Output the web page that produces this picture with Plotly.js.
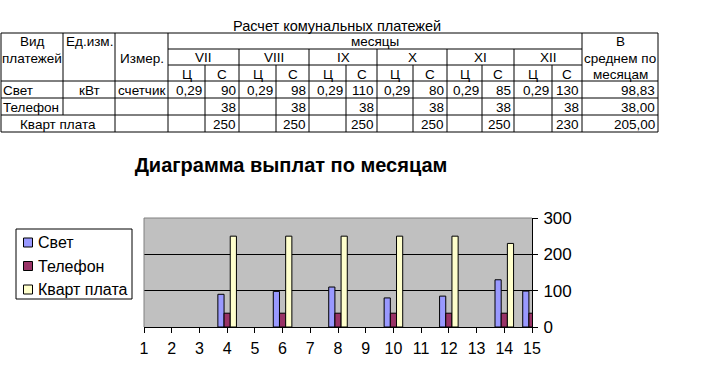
<!DOCTYPE html>
<html>
<head>
<meta charset="utf-8">
<script src="https://cdn.plot.ly/plotly-3.0.1.min.js"></script>
<style>
html,body{margin:0;padding:0;background:#fff;}
#chart{width:726px;height:392px;}
</style>
</head>
<body>
<div id="chart"></div>
<script>
// ---------- DATA ----------
const tableTitle = 'Расчет комунальных платежей';
const chartTitle = 'Диаграмма выплат по месяцам';
const seriesNames = ['Свет', 'Телефон', 'Кварт плата'];
const units = ['кВт', '', ''];
const meters = ['счетчик', '', ''];
const months = ['VII', 'VIII', 'IX', 'X', 'XI', 'XII'];
const svetPrice = [0.29, 0.29, 0.29, 0.29, 0.29, 0.29];
const svetCost = [90, 98, 110, 80, 85, 130];
const phoneCost = [38, 38, 38, 38, 38, 38];
const rentCost = [250, 250, 250, 250, 250, 230];
const averages = [98.83, 38.00, 205.00];
const categories = [1, 2, 3, 4, 5, 6, 7, 8, 9, 10, 11, 12, 13, 14, 15];

// ---------- CHART SERIES (spreadsheet columns -> categories; only the "С" sums and averages are drawn) ----------
function rowSeries(costs, avg) {
  const out = [null, null];
  for (let i = 0; i < costs.length; i++) {
    out.push(null);
    out.push(costs[i]);
  }
  out.push(avg);
  return out;
}
const svetY = rowSeries(svetCost, averages[0]);
const phoneY = rowSeries(phoneCost, averages[1]);
const rentY = rowSeries(rentCost, averages[2]);

const colors = ['#9999FF', '#993366', '#FFFFCC'];
const FONT = 'Arial, "Liberation Sans", sans-serif';

const traces = [svetY, phoneY, rentY].map((y, i) => ({
  type: 'bar', x: categories, y: y, name: seriesNames[i],
  marker: {color: colors[i], line: {color: '#000', width: 1}},
  hoverinfo: 'skip', showlegend: false
}));

// ---------- PIXEL -> PAPER ----------
const L = 144, R = 532, T = 218, B = 327;
const PX = x => (x - L) / (R - L);
const PY = y => (B - y) / (B - T);

const shapes = [];
const annotations = [];
function hline(y, x0, x1) {
  shapes.push({type: 'line', xref: 'paper', yref: 'paper', x0: PX(x0), x1: PX(x1), y0: PY(y), y1: PY(y), line: {color: '#000', width: 1}});
}
function vline(x, y0, y1) {
  shapes.push({type: 'line', xref: 'paper', yref: 'paper', x0: PX(x), x1: PX(x), y0: PY(y0), y1: PY(y1), line: {color: '#000', width: 1}});
}
function rect(x0, y0, x1, y1, fill) {
  shapes.push({type: 'rect', xref: 'paper', yref: 'paper', x0: PX(x0), x1: PX(x1), y0: PY(y0), y1: PY(y1),
    fillcolor: fill, layer: 'above', line: {color: '#000', width: 1}});
}
function txt(s, x, y, anchor, size, bold) {
  annotations.push({xref: 'paper', yref: 'paper', x: PX(x), y: PY(y), text: s, showarrow: false,
    xanchor: anchor || 'center', yanchor: 'middle', borderpad: 0,
    font: {family: FONT, size: size || 13.5, color: '#000', weight: bold ? 'bold' : 'normal'}});
}
const fmt = (v, d) => v.toFixed(d).replace('.', ',');
const fmtAuto = v => (Number.isInteger(v) ? String(v) : fmt(v, 2));

// ---------- TABLE GEOMETRY ----------
const CX = [1, 63, 115, 168, 205, 239, 276, 309, 346, 377, 413, 447, 482, 514, 552, 582, 658];
const RY = [33, 49, 65, 81, 98, 115, 132];

hline(RY[0], CX[0], CX[16]);
hline(RY[1], CX[3], CX[15]);
hline(RY[2], CX[3], CX[15]);
for (let r = 3; r <= 6; r++) hline(RY[r], CX[0], CX[16]);
[0, 2, 3, 15, 16].forEach(c => vline(CX[c], RY[0], RY[6]));
vline(CX[1], RY[0], RY[5]);
for (let m = 0; m < months.length; m++) {
  vline(CX[4 + 2 * m], RY[2], RY[6]);
  if (m < months.length - 1) vline(CX[5 + 2 * m], RY[1], RY[6]);
}

txt(tableTitle, 337, 26, 'center', 14.5);
txt('Вид', 32, 41);
txt('платежей', 32, 58);
txt('Ед.изм.', 65, 41, 'left');
txt('Измер.', 141.5, 58);
txt('месяцы', (CX[3] + CX[15]) / 2, 41);
txt('В', 620, 41);
txt('среднем по', 620, 58);
txt('месяцам', 620, 74.5);
for (let m = 0; m < months.length; m++) {
  const a = CX[3 + 2 * m], b = CX[4 + 2 * m], c = CX[5 + 2 * m];
  txt(months[m], (a + c) / 2, 57.5);
  txt('Ц', (a + b) / 2, 74);
  txt('С', (b + c) / 2, 74);
}
const rowY = [90.5, 107.5, 124.5];
txt(seriesNames[0], 2, rowY[0], 'left');
txt(seriesNames[1], 2, rowY[1], 'left');
txt(seriesNames[2], (CX[0] + CX[2]) / 2, rowY[2]);
txt(units[0], (CX[1] + CX[2]) / 2, rowY[0]);
txt(meters[0], (CX[2] + CX[3]) / 2, rowY[0]);
const costRows = [svetCost, phoneCost, rentCost];
for (let m = 0; m < months.length; m++) {
  txt(fmt(svetPrice[m], 2), CX[4 + 2 * m] - 2, rowY[0], 'right');
  for (let r = 0; r < 3; r++) txt(fmtAuto(costRows[r][m]), CX[5 + 2 * m] - 2, rowY[r], 'right');
}
for (let r = 0; r < 3; r++) txt(fmt(averages[r], 2), CX[16] - 2, rowY[r], 'right');

// plot area gray border (top/left)
shapes.push({type: 'line', xref: 'paper', yref: 'paper', x0: 0, x1: 1, y0: 1, y1: 1, layer: 'above', line: {color: '#808080', width: 1}});
shapes.push({type: 'line', xref: 'paper', yref: 'paper', x0: 0, x1: 0, y0: 0, y1: 1, layer: 'above', line: {color: '#808080', width: 1}});

// ---------- LEGEND (Excel-style box) ----------
rect(16, 229, 132, 299, '#FFFFFF');
const legY = [242.5, 266, 289.5];
seriesNames.forEach((n, i) => {
  rect(23.5, legY[i] - 4.5, 32.5, legY[i] + 4.5, colors[i]);
  txt(n, 37, legY[i], 'left', 16);
});

const layout = {
  width: 726, height: 392, autosize: false,
  margin: {l: L, r: 726 - R, t: T, b: 392 - B, pad: 0},
  paper_bgcolor: '#FFFFFF', plot_bgcolor: '#C0C0C0',
  font: {family: FONT, color: '#000'},
  title: {text: chartTitle, x: 291 / 726, xref: 'container', xanchor: 'center',
          y: 1 - 165 / 392, yref: 'container', yanchor: 'middle',
          font: {family: FONT, size: 20, weight: 'bold', color: '#000'}},
  barmode: 'group', bargap: 0.33, bargroupgap: 0,
  showlegend: false,
  xaxis: {range: [1, 15], tickvals: categories, ticktext: categories.map(String),
          ticks: 'outside', ticklen: 5, tickcolor: '#000', showline: true, linecolor: '#000', linewidth: 1,
          showgrid: false, zeroline: false, ticklabelstandoff: 2,
          tickfont: {family: FONT, size: 16, color: '#000'}, fixedrange: true},
  yaxis: {side: 'right', range: [0, 300], tickvals: [0, 100, 200, 300], ticks: 'outside', ticklen: 5,
          tickcolor: '#000', showline: true, linecolor: '#000', linewidth: 1, showgrid: true,
          gridcolor: '#000', gridwidth: 1, zeroline: false, ticklabelstandoff: 2,
          tickfont: {family: FONT, size: 17, color: '#000'}, fixedrange: true},
  shapes: shapes, annotations: annotations
};

Plotly.newPlot('chart', traces, layout, {displayModeBar: false, staticPlot: true});
</script>
</body>
</html>
